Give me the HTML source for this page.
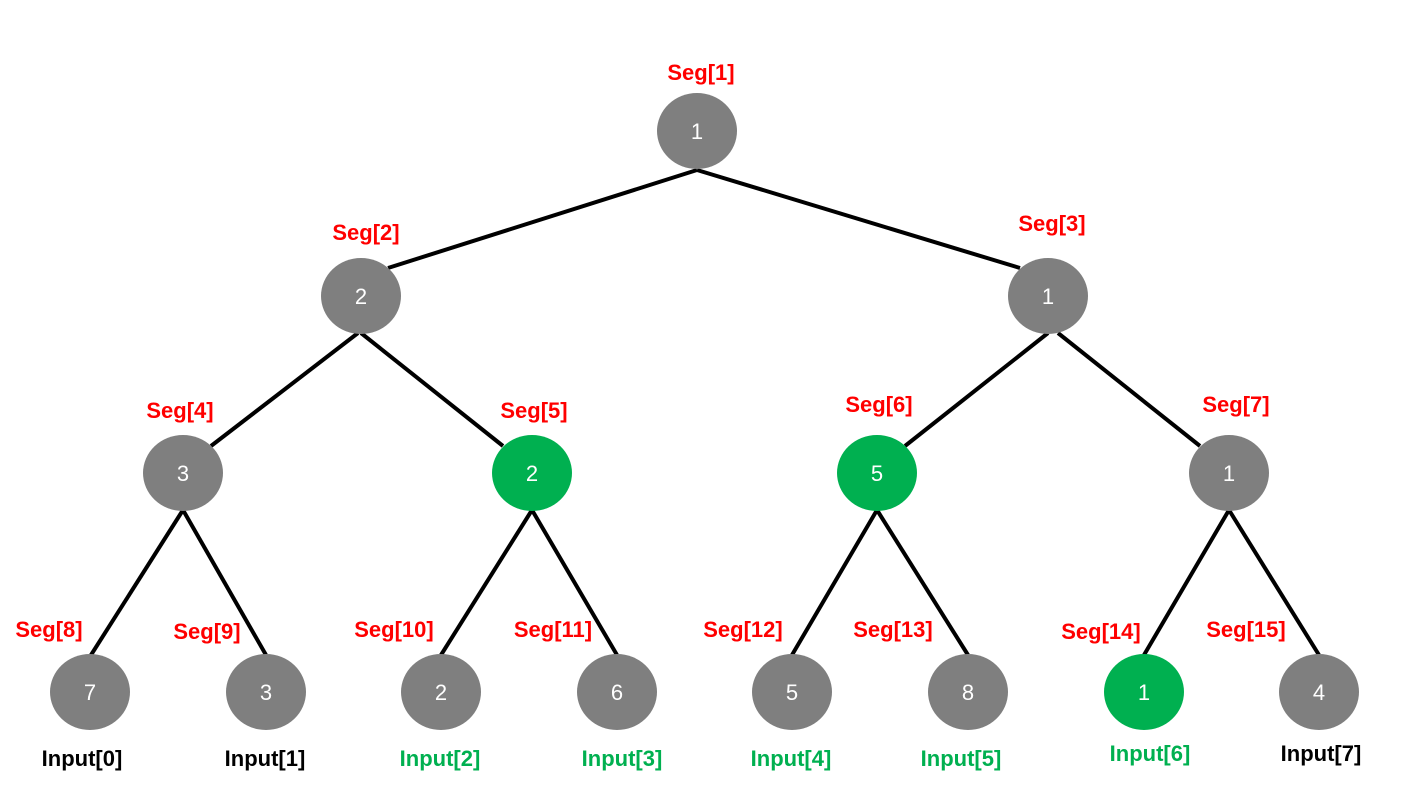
<!DOCTYPE html>
<html><head><meta charset="utf-8"><style>body{margin:0;background:#fff}svg{display:block}</style></head><body>
<svg width="1408" height="786" viewBox="0 0 1408 786" xmlns="http://www.w3.org/2000/svg" font-family="Liberation Sans, sans-serif">
<g stroke="#000" stroke-width="4" fill="none">
<line x1="697" y1="170" x2="388" y2="268"/>
<line x1="697" y1="170" x2="1020" y2="268"/>
<line x1="358" y1="333" x2="211" y2="446"/>
<line x1="361" y1="333" x2="503" y2="446"/>
<line x1="1048" y1="333" x2="905" y2="446"/>
<line x1="1058" y1="333" x2="1200" y2="446"/>
<line x1="183" y1="510" x2="91" y2="655"/>
<line x1="183" y1="510" x2="266" y2="655"/>
<line x1="532" y1="510" x2="441" y2="655"/>
<line x1="532" y1="510" x2="617" y2="655"/>
<line x1="877" y1="510" x2="792" y2="655"/>
<line x1="877" y1="510" x2="968" y2="655"/>
<line x1="1229" y1="510" x2="1144" y2="655"/>
<line x1="1229" y1="510" x2="1319" y2="655"/>
</g>
<g>
<ellipse cx="697" cy="131" rx="40" ry="38" fill="#7f7f7f"/>
<ellipse cx="361" cy="296" rx="40" ry="38" fill="#7f7f7f"/>
<ellipse cx="1048" cy="296" rx="40" ry="38" fill="#7f7f7f"/>
<ellipse cx="183" cy="473" rx="40" ry="38" fill="#7f7f7f"/>
<ellipse cx="532" cy="473" rx="40" ry="38" fill="#00b050"/>
<ellipse cx="877" cy="473" rx="40" ry="38" fill="#00b050"/>
<ellipse cx="1229" cy="473" rx="40" ry="38" fill="#7f7f7f"/>
<ellipse cx="90" cy="692" rx="40" ry="38" fill="#7f7f7f"/>
<ellipse cx="266" cy="692" rx="40" ry="38" fill="#7f7f7f"/>
<ellipse cx="441" cy="692" rx="40" ry="38" fill="#7f7f7f"/>
<ellipse cx="617" cy="692" rx="40" ry="38" fill="#7f7f7f"/>
<ellipse cx="792" cy="692" rx="40" ry="38" fill="#7f7f7f"/>
<ellipse cx="968" cy="692" rx="40" ry="38" fill="#7f7f7f"/>
<ellipse cx="1144" cy="692" rx="40" ry="38" fill="#00b050"/>
<ellipse cx="1319" cy="692" rx="40" ry="38" fill="#7f7f7f"/>
</g>
<g fill="#fff" font-size="22" text-anchor="middle">
<text x="697" y="139">1</text><text x="361" y="304">2</text><text x="1048" y="304">1</text>
<text x="183" y="481">3</text><text x="532" y="481">2</text><text x="877" y="481">5</text><text x="1229" y="481">1</text>
<text x="90" y="700">7</text><text x="266" y="700">3</text><text x="441" y="700">2</text><text x="617" y="700">6</text>
<text x="792" y="700">5</text><text x="968" y="700">8</text><text x="1144" y="700">1</text><text x="1319" y="700">4</text>
</g>
<g fill="#ff0000" font-size="22" font-weight="bold" text-anchor="middle">
<text x="701" y="80">Seg[1]</text><text x="366" y="240">Seg[2]</text><text x="1052" y="231">Seg[3]</text>
<text x="180" y="418">Seg[4]</text><text x="534" y="418">Seg[5]</text><text x="879" y="412">Seg[6]</text><text x="1236" y="412">Seg[7]</text>
<text x="49" y="637">Seg[8]</text><text x="207" y="639">Seg[9]</text><text x="394" y="637">Seg[10]</text><text x="553" y="637">Seg[11]</text>
<text x="743" y="637">Seg[12]</text><text x="893" y="637">Seg[13]</text><text x="1101" y="639">Seg[14]</text><text x="1246" y="637">Seg[15]</text>
</g>
<g font-size="22" font-weight="bold" text-anchor="middle">
<text x="82" y="766" fill="#000">Input[0]</text><text x="265" y="766" fill="#000">Input[1]</text>
<text x="440" y="766" fill="#00b050">Input[2]</text><text x="622" y="766" fill="#00b050">Input[3]</text>
<text x="791" y="766" fill="#00b050">Input[4]</text><text x="961" y="766" fill="#00b050">Input[5]</text>
<text x="1150" y="761" fill="#00b050">Input[6]</text><text x="1321" y="761" fill="#000">Input[7]</text>
</g>
</svg>
</body></html>
